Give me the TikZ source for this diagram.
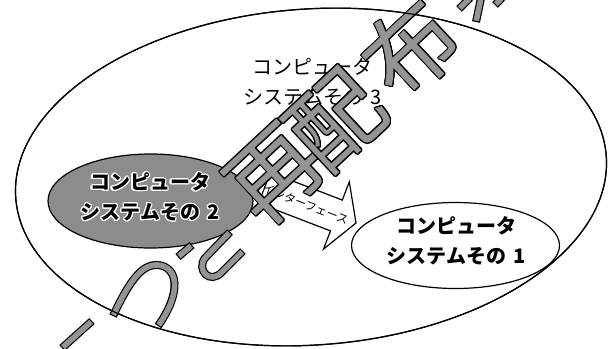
\documentclass[tikz,border=0pt]{standalone}
\usepackage{fontspec}
\usepackage{contour}
\usetikzlibrary{shapes.geometric}
\newfontfamily\jp{Noto Sans CJK JP}
\definecolor{wmgray}{gray}{0.58}
\definecolor{sysgray}{gray}{0.55}
\contourlength{1.1pt}
\begin{document}
\begin{tikzpicture}[x=1pt,y=-1pt,
  ell/.style={ellipse, draw=black, line width=1.2pt, inner sep=0pt},
  bigell/.style={ell, minimum width=592pt, minimum height=336pt, rotate=4},
  lbl/.style={font=\jp\fontsize{20}{30}\selectfont, align=center, inner sep=0pt, text=black},
  blbl/.style={lbl, font=\jp\bfseries\fontsize{20}{30}\selectfont},
  arrowbox/.style={draw=black, line width=1.2pt, fill=white, line join=miter},
  iflbl/.style={font=\jp\fontsize{11.5}{11.5}\selectfont, inner sep=0pt, rotate=-21},
  wmglyph/.style={font=\jp\fontsize{92}{92}\selectfont, inner sep=0pt, rotate=43},
  wmbar/.style={draw=black, line width=8pt, line cap=butt, postaction={draw=wmgray, line width=5.6pt, shorten <=1.2pt, shorten >=1.2pt}}
]
\fill[white] (0,0) rectangle (609,348);
\useasboundingbox (0,0) rectangle (609,348);
\begin{scope}
\clip (0,0) rectangle (609,348);
% system 3 (outer)
\node[bigell] (sys3) at (311,177) {};
\node[lbl] (t3) at (312.5,82) {コンピュータ\\システムその\hspace{0.35em}3};
% system 2
\node[ell, fill=sysgray, minimum width=205pt, minimum height=94pt] (sys2) at (150.5,201) {};
\node[blbl] (t2) at (150,197.5) {\contour{white}{コンピュータ}\\\contour{white}{システムその\hspace{0.35em}2}};
% interface arrow
\coordinate (iftip) at (356,223);
\begin{scope}[shift={(iftip)}, rotate=-21]
  \draw[arrowbox] (0,0) -- (-21,-36) -- (-21,-16.5) -- (-98,-16.5) -- (-98,16.5) -- (-21,16.5) -- (-21,36) -- cycle;
\end{scope}
\node[iflbl] (ift) at (305.5,204) {インターフェース};
% system 1
\node[ell, fill=white, minimum width=208pt, minimum height=86pt] (sys1) at (455.5,245.5) {};
\node[blbl] (t1) at (456,241) {コンピュータ\\システムその\hspace{0.35em}1};
% watermark
\node[wmglyph] (wm1) at (276,175) {\contour{black}{\textcolor{wmgray}{再}}};
\node[wmglyph] (wm2) at (337,121) {\contour{black}{\textcolor{wmgray}{配}}};
\node[wmglyph] (wm3) at (411,49) {\contour{black}{\textcolor{wmgray}{布}}};
\draw[wmbar] (62,348) -- (92,321);
\draw[wmbar] (113,316) .. controls (130,280) and (142,264) .. (158,265) .. controls (178,267) and (182,292) .. (158,326);
\draw[wmbar] (230,232) -- (205,258) .. controls (196,270) and (210,285) .. (222,272) -- (243,251);
\draw[wmbar] (178,257) -- (192,245);
\draw[wmbar] (459,9) -- (470,-2);
\draw[wmbar] (481,-2) -- (476,22);
\draw[wmbar] (495,5) -- (502,-2);
\node[bigell] (sys3b) at (311,177) {};
\end{scope}
\end{tikzpicture}
\end{document}
